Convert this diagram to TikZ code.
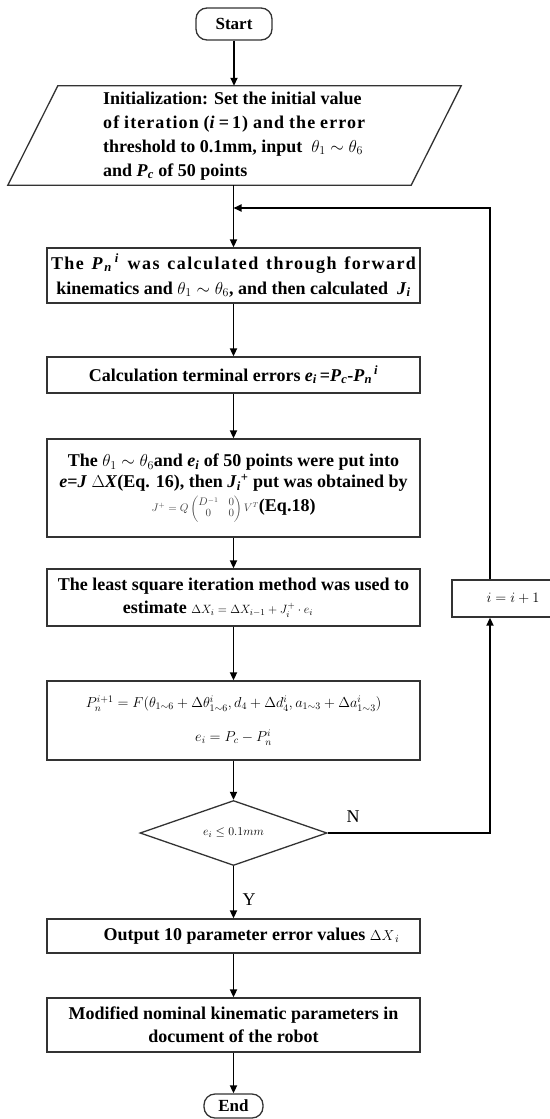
\documentclass[tikz,border=0pt]{standalone}
\usepackage{amsmath}
\usepackage{fontspec}
\setmainfont{Liberation Serif}
\usetikzlibrary{arrows.meta,shapes.geometric}
\newcommand{\vi}[1]{\textit{#1}}
\begin{document}
\begin{tikzpicture}[x=1pt,y=-1pt,
  boxline/.style={draw=black!80, line width=1.3pt},
  box/.style={boxline, minimum width=373pt, align=center, inner sep=0pt,
    font=\bfseries\fontsize{18}{23}\selectfont},
  term/.style={boxline, rounded corners=11pt, inner sep=0pt, font=\bfseries\fontsize{17}{19}\selectfont},
  arr/.style={-{Triangle[length=8pt,width=7pt]}, line width=1.7pt},
  lbl/.style={font=\fontsize{18}{20}\selectfont}]
\useasboundingbox (0,0) rectangle (549,1119);

\node[term, minimum width=76pt, minimum height=32pt] (start) at (234,24) {Start};

\node[minimum width=403pt, minimum height=99pt, inner sep=0pt] (init) at (234.5,135.5) {};
\draw[boxline] ([xshift=25pt]init.north west) -- ([xshift=25pt]init.north east)
  -- ([xshift=-25pt]init.south east) -- ([xshift=-25pt]init.south west) -- cycle;
\node[anchor=west, align=left, inner sep=0pt, font=\bfseries\fontsize{18}{24}\selectfont] (inittext) at (103,136)
 {Initialization: Set the initial value\\
  \makebox[262pt][s]{\addfontfeatures{LetterSpace=6}of iteration (\vi{i}\,=\,1) and the error}\\
  threshold to 0.1mm, input \ $\theta_1\sim\theta_6$\\
  and \vi{P}\textsubscript{\vi{c}} of 50 points};

\node[box, minimum height=55pt, font=\bfseries\fontsize{18}{25}\selectfont] (b1) at (233.5,275.5)
 {\makebox[365pt][s]{\addfontfeatures{LetterSpace=8}The \vi{P}\textsubscript{\vi{n}}\textsuperscript{\,\vi{i}} was calculated through forward}\\
  kinematics and $\theta_1\sim\theta_6$, and then calculated \ \vi{J}\textsubscript{\vi{i}}};

\node[box, minimum height=36pt] (b2) at (233.5,375)
 {Calculation terminal errors \vi{e}\textsubscript{\vi{i}}\,=\vi{P}\textsubscript{\vi{c}}-\vi{P}\textsubscript{\vi{n}}\textsuperscript{\,\vi{i}}};

\node[box, minimum height=98pt, font=\bfseries\fontsize{18}{21}\selectfont] (b3) at (233.5,488)
 {The $\theta_1\sim\theta_6$and \vi{e}\textsubscript{\vi{i}} of 50 points were put into\\
  \vi{e}=\vi{J} \vi{$\Delta$X}(Eq. 16), then \vi{J}\textsubscript{\vi{i}}\textsuperscript{+} put was obtained by\\[3pt]
  {\fontsize{10.5}{11}\selectfont\mdseries\color{black!75}$J^{+}=Q\begin{pmatrix}D^{-1}&0\\ 0&0\end{pmatrix}V^{T}$}(Eq.18)};

\node[box, minimum height=57pt] (b4) at (233.5,597.5)
 {The least square iteration method was used to\\
  estimate {\mdseries\fontsize{13}{16}\selectfont$\Delta X_i=\Delta X_{i-1}+J_i^{+}\cdot e_i$}\hspace*{31pt}};

\node[box, minimum height=79pt, font=\fontsize{14.5}{34}\selectfont] (b5) at (233.5,720.5)
 {$P_n^{i+1}=F(\theta_{1\sim6}+\Delta\theta_{1\sim6}^{i},d_4+\Delta d_4^{i},a_{1\sim3}+\Delta a_{1\sim3}^{i})$\\
  $e_i=P_c-P_n^i$};

\node[boxline, diamond, aspect=2.88, minimum width=187pt, minimum height=65pt, inner sep=0pt,
  font=\fontsize{13}{15}\selectfont] (dia) at (233.5,833) {$e_i\le 0.1mm$};

\node[box, minimum height=34pt] (b6) at (233.5,936)
 {\hspace*{36pt}Output 10 parameter error values {\mdseries\fontsize{15}{17}\selectfont$\Delta X_{\,i}$}};

\node[box, minimum height=54pt] (b7) at (233.5,1025)
 {Modified nominal kinematic parameters in\\ document of the robot};

\node[term, minimum width=59pt, minimum height=24pt] (end) at (233.5,1106) {End};

\node[boxline, minimum width=122pt, minimum height=37pt, inner sep=0pt,
  font=\fontsize{15}{17}\selectfont] (inc) at (513,598.5) {$i=i+1$};

\coordinate (merge) at (233.5,208);
\coordinate (rx) at (490,833);

\draw[arr] (start.south) -- (start.south |- init.north);
\draw[line width=1.7pt] (b1.north |- init.south) -- (merge);
\draw[arr] (merge) -- (b1.north);
\draw[arr] (b1) -- (b2);
\draw[arr] (b2) -- (b3);
\draw[arr] (b3) -- (b4);
\draw[arr] (b4) -- (b5);
\draw[arr] (b5) -- (dia);
\draw[arr] (dia) -- (b6);
\draw[arr] (b6) -- (b7);
\draw[arr] (b7) -- (end);
\draw[arr] (dia.east) -- (rx) -- (inc.south -| rx);
\draw[arr] (inc.north -| rx) |- (merge);

\node[lbl] (nlab) at (353,817) {N};
\node[lbl] (ylab) at (249,900) {Y};
\end{tikzpicture}
\end{document}
